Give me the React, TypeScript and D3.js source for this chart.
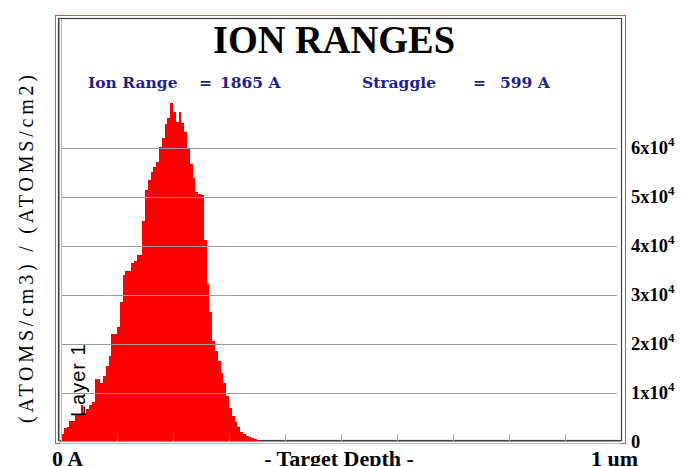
import React from "react";
import * as d3 from "d3";

// depth profile, 50 A bins starting at 0 A
const binWidth = 50;
const ionCounts = [
  1500, 2700, 3000, 4100, 4100, 5400, 5400, 7500, 5800, 6700,
  7500, 8000, 12800, 12800, 12000, 13400, 15500, 17500, 22000, 22000,
  23500, 28600, 34000, 34800, 34800, 36500, 37000, 38200, 38200, 45000,
  51500, 53400, 55100, 56200, 57100, 60300, 62000, 65000, 66200, 69300,
  67400, 65400, 67300, 65200, 63200, 59900, 56700, 53900, 51000, 50500,
  50300, 41200, 32200, 26500, 20600, 18500, 16400, 14100, 11900, 9200,
  6800, 5200, 3900, 2900, 2000, 1500, 1200, 1000, 800, 500, 300,
];
const yTicks = [0, 10000, 20000, 30000, 40000, 50000, 60000];
const yTickMantissa = ["0", "1", "2", "3", "4", "5", "6"];
const xTicks = [1000, 2000, 3000, 4000, 5000, 6000, 7000, 8000, 9000];
const stats = [
  { label: "Ion Range", value: "1865 A" },
  { label: "Straggle", value: "599 A" },
];

const W = 685;
const H = 466;

export default function App() {
  const x = d3.scaleLinear().domain([0, 10000]).range([61, 621]);
  const y = d3.scaleLinear().domain([0, 60000]).range([441.5, 148]);

  return (
    <svg
      width={W}
      height={H}
      style={{ position: "absolute", left: 0, top: 0, background: "#fff" }}
    >
      <rect x={0} y={0} width={W} height={H} fill="#fff" />
      {/* frames */}
      <rect x={55.5} y={15.5} width={570} height={428} fill="none" stroke="#ff4040" strokeWidth={1} />
      <rect x={58.5} y={18.5} width={563} height={422} fill="none" stroke="#404040" strokeWidth={1.2} />

      {/* title */}
      <text
        x={334}
        y={53}
        textAnchor="middle"
        fontFamily="Liberation Serif"
        fontWeight="bold"
        fontSize={40}
        textLength={242}
        lengthAdjust="spacingAndGlyphs"
      >
        ION RANGES
      </text>
      {stats.map((s, i) => {
        const x0 = i === 0 ? 88 : 362;
        return (
          <g key={s.label} fontFamily="DejaVu Serif" fontWeight="bold" fontSize={15.5} fill="#1f1f8c">
            <text x={x0} y={88}>{s.label}</text>
            <text x={x0 + 111} y={88}>=</text>
            <text x={x0 + (i === 0 ? 132 : 138)} y={88}>{s.value}</text>
          </g>
        );
      })}

      {/* bars */}
      <g shapeRendering="crispEdges">
        {ionCounts.map((v, i) => (
          <rect
            key={i}
            x={x(i * binWidth)}
            width={x(binWidth) - x(0)}
            y={y(v)}
            height={y(0) - y(v)}
            fill="#ff0000"
          />
        ))}
      </g>

      {/* grid */}
      {yTicks.slice(1).map((t) => (
        <line key={t} x1={62} x2={617} y1={Math.round(y(t)) + 0.5} y2={Math.round(y(t)) + 0.5} stroke="#999" strokeWidth={1} />
      ))}
      {xTicks.map((t) => (
        <line key={t} x1={Math.round(x(t)) + 0.5} x2={Math.round(x(t)) + 0.5} y1={434} y2={441} stroke="#aaa" strokeWidth={1} />
      ))}
      {/* axes */}
      <line x1={60} x2={621} y1={441.5} y2={441.5} stroke="#999" />
      <line x1={60} x2={621} y1={443.5} y2={443.5} stroke="#bbb" />
      <line x1={59.5} x2={59.5} y1={19} y2={443} stroke="#999" />
      <line x1={61.5} x2={61.5} y1={19} y2={442} stroke="#bbb" />

      {/* right tick labels */}
      {yTicks.map((t, i) => (
        <text key={t} x={631} y={y(t) + 6} fontFamily="Liberation Serif" fontWeight="bold" fontSize={18.5}>
          {t === 0 ? "0" : (
            <>
              {yTickMantissa[i]}x10
              <tspan dy={-8} fontSize={13}>4</tspan>
            </>
          )}
        </text>
      ))}

      {/* y label */}
      <text
        transform="translate(33,249) rotate(-90)"
        textAnchor="middle"
        fontFamily="Liberation Serif"
        fontSize={20}
        textLength={348}
        lengthAdjust="spacing"
      >
        (ATOMS/cm3) / (ATOMS/cm2)
      </text>

      {/* layer label */}
      <text
        transform="translate(85,417) rotate(-90)"
        fontFamily="Liberation Sans"
        fontSize={20}
        letterSpacing={1}
      >
        Layer 1
      </text>

      {/* bottom labels */}
      <g fontFamily="Liberation Serif" fontWeight="bold" fontSize={22}>
        <text x={52} y={466}>0 A</text>
        <text x={339} y={466} textAnchor="middle">- Target Depth -</text>
        <text x={638} y={466} textAnchor="end">1 um</text>
      </g>
    </svg>
  );
}
